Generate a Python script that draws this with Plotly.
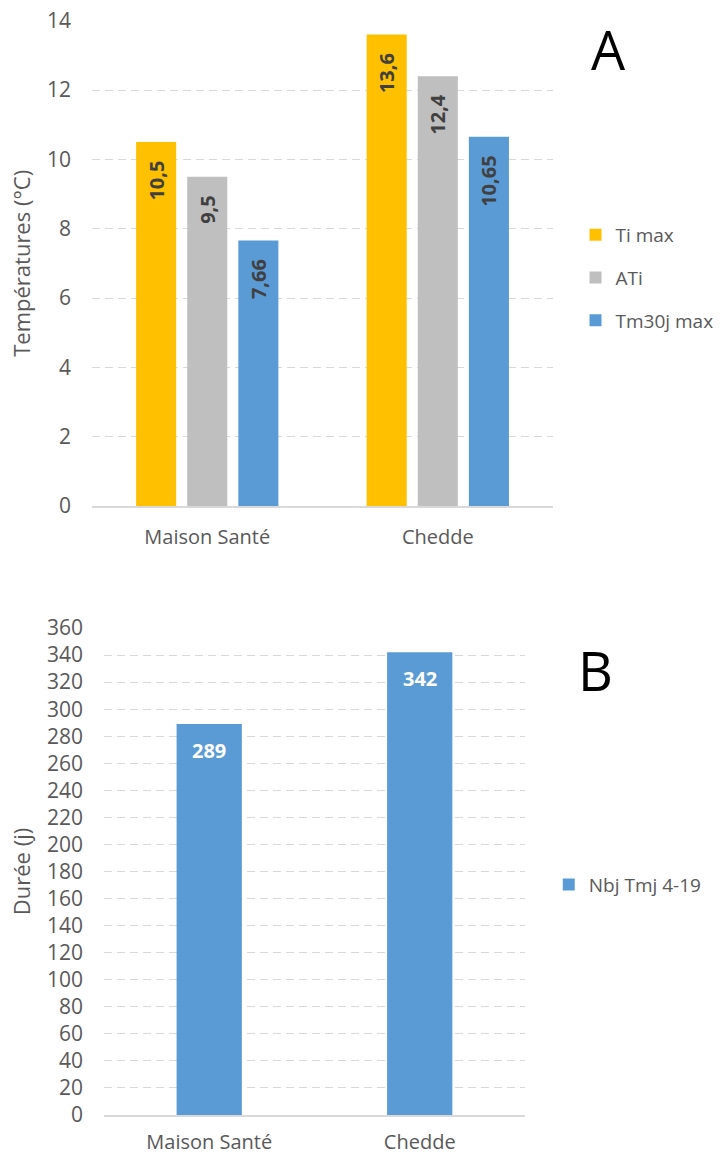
import plotly.graph_objects as go

# --- data -------------------------------------------------------------
sites = ["Maison Santé", "Chedde"]

ti_max = [10.5, 13.6]
ati = [9.5, 12.4]
tm30j_max = [7.66, 10.65]

nbj_tmj = [289, 342]

temp_ticks = [0, 2, 4, 6, 8, 10, 12, 14]
days_ticks = list(range(0, 361, 20))

# --- style ------------------------------------------------------------
FONT = "Open Sans"
GREY_TXT = "#595959"
GRID = "#D9D9D9"
NBSP = "\u00a0"


def fr(v):
    """French decimal notation for bar labels."""
    return f"{v:g}".replace(".", ",")


fig = go.Figure()

temp_series = [
    ("Ti max", ti_max, "#FFC000"),
    ("ATi", ati, "#BFBFBF"),
    ("Tm30j max", tm30j_max, "#5B9BD5"),
]
for name, vals, color in temp_series:
    fig.add_trace(go.Bar(
        x=sites, y=vals, name=name,
        marker=dict(color=color, line=dict(width=0)),
        text=[fr(v) + NBSP * 3 for v in vals],
        textposition="inside", insidetextanchor="end", textangle=-90,
        constraintext="none",
        textfont=dict(family=FONT, size=20, color="#404040", weight="bold"),
        xaxis="x", yaxis="y", legend="legend", legendgroup=name,
        hoverinfo="skip",
    ))

fig.add_trace(go.Bar(
    x=sites, y=nbj_tmj, name="Nbj Tmj 4-19", width=0.31,
    marker=dict(color="#5B9BD5", line=dict(width=0)),
    xaxis="x2", yaxis="y2", legend="legend2", hoverinfo="skip",
))

# value labels for the day-count bars, just below each bar top
annotations = []
for s, v in zip(sites, nbj_tmj):
    annotations.append(dict(
        x=s, y=v, xref="x2", yref="y2", text=str(v), showarrow=False,
        yanchor="top", yshift=-11,
        font=dict(family=FONT, size=20, color="white", weight="bold"),
    ))

# panel letters
annotations.append(dict(x=0.842, y=0.958, xref="paper", yref="paper", text="A",
                        showarrow=False, xanchor="center", yanchor="middle",
                        font=dict(family=FONT, size=54, color="black")))
annotations.append(dict(x=0.824, y=0.420, xref="paper", yref="paper", text="B",
                        showarrow=False, xanchor="center", yanchor="middle",
                        font=dict(family=FONT, size=54, color="black")))

common_x = dict(
    type="category", showgrid=False, zeroline=False, automargin=False,
    showline=True, linecolor=GRID, linewidth=2, ticks="",
    tickfont=dict(family=FONT, size=20, color=GREY_TXT),
)
common_y = dict(
    showgrid=True, gridcolor=GRID, gridwidth=1.4, griddash="8px,5px",
    zeroline=False, showline=False, ticks="", automargin=False,
    tickfont=dict(family=FONT, size=21, color=GREY_TXT),
    ticklabelstandoff=20,
)

fig.update_layout(
    width=723, height=1155,
    margin=dict(l=0, r=0, t=0, b=0, autoexpand=False),
    paper_bgcolor="white", plot_bgcolor="white",
    barmode="group", bargap=0.335, bargroupgap=0.216,
    font=dict(family=FONT, color=GREY_TXT),
    showlegend=True,
    xaxis=dict(common_x, domain=[0.1272, 0.7650], anchor="y",
               ticklabelstandoff=12),
    yaxis=dict(common_y, domain=[0.5619, 0.9821], anchor="x",
               range=[0, 14], tickvals=temp_ticks,
               title=dict(text="Températures (°C)", standoff=10,
                          font=dict(family=FONT, size=22, color=GREY_TXT))),
    xaxis2=dict(common_x, domain=[0.1438, 0.7261], anchor="y2",
                ticklabelstandoff=8),
    yaxis2=dict(common_y, domain=[0.0346, 0.4563], anchor="x2",
                range=[0, 360], tickvals=days_ticks,
                title=dict(text="Durée (j)", standoff=10,
                           font=dict(family=FONT, size=22, color=GREY_TXT))),
    legend=dict(x=0.796, y=0.813, xanchor="left", yanchor="top",
                tracegroupgap=15, itemwidth=30,
                font=dict(family=FONT, size=19, color=GREY_TXT),
                bgcolor="rgba(0,0,0,0)"),
    legend2=dict(x=0.759, y=0.234, xanchor="left", yanchor="middle",
                 itemwidth=30,
                 font=dict(family=FONT, size=19, color=GREY_TXT),
                 bgcolor="rgba(0,0,0,0)"),
    annotations=annotations,
)

fig.write_html("out.html")
